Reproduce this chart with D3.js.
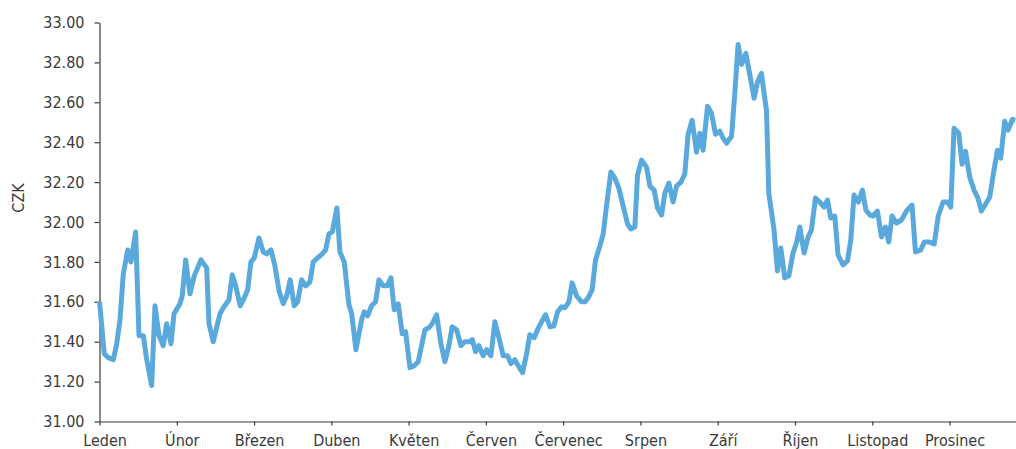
<!DOCTYPE html>
<html>
<head>
<meta charset="utf-8">
<script src="https://cdn.jsdelivr.net/npm/d3@7"></script>
<style>
  html, body { margin: 0; padding: 0; background: #fff; }
  svg { display: block; }
  .axis text { font-family: "Liberation Sans Narrow", "Arial Narrow", "DejaVu Sans Condensed", sans-serif; font-size: 16px; fill: #3a3a3a; }
  .axis path, .axis line { stroke: #3a3a3a; stroke-width: 1.2; }
</style>
</head>
<body>
<svg id="chart" width="1016" height="449"></svg>
<script>
const months = ["Leden","Únor","Březen","Duben","Květen","Červen","Červenec","Srpen","Září","Říjen","Listopad","Prosinec"];
const yTicks = [31.0,31.2,31.4,31.6,31.8,32.0,32.2,32.4,32.6,32.8,33.0];
const yLabel = "CZK";
// position in months from start of year (0 = Leden)
const pos = [0.00,0.062,0.114,0.179,0.223,0.265,0.308,0.365,0.407,0.468,0.511,0.567,0.611,0.675,0.718,0.770,0.825,0.869,0.925,0.964,
1.041,1.071,1.115,1.171,1.226,1.313,1.387,1.417,1.472,1.559,1.602,1.658,1.675,1.718,1.762,1.821,1.873,1.917,1.960,
2.003,2.063,2.119,2.163,2.219,2.270,2.326,2.378,2.422,2.468,2.520,2.564,2.616,2.668,2.723,2.766,2.823,2.882,2.926,2.969,
3.012,3.072,3.111,3.167,3.228,3.263,3.318,3.392,3.426,3.470,3.521,3.573,3.616,3.671,3.723,3.771,3.814,3.865,3.917,3.961,
4.017,4.073,4.124,4.211,4.263,4.305,4.362,4.418,4.470,4.521,4.564,4.621,4.677,4.728,4.793,4.823,4.867,4.910,4.965,
5.009,5.065,5.116,5.168,5.224,5.281,5.323,5.375,5.418,5.475,5.527,5.569,5.625,5.669,5.721,5.772,5.828,5.880,5.928,5.979,
6.022,6.074,6.116,6.173,6.238,6.281,6.323,6.375,6.419,6.475,6.518,6.561,6.617,6.669,6.721,6.776,6.833,6.876,6.928,6.962,
7.014,7.079,7.122,7.177,7.221,7.273,7.316,7.368,7.423,7.467,7.523,7.574,7.617,7.669,7.726,7.769,7.811,7.868,7.920,7.972,
8.027,8.070,8.114,8.179,8.221,8.264,8.308,8.364,8.429,8.471,8.514,8.566,8.600,8.631,8.661,8.729,8.773,8.816,8.868,8.920,8.975,
9.019,9.062,9.118,9.170,9.213,9.265,9.321,9.376,9.420,9.463,9.515,9.557,9.622,9.679,9.722,9.764,9.820,9.873,9.917,9.972,
10.010,10.067,10.119,10.171,10.213,10.256,10.313,10.378,10.443,10.515,10.559,10.628,10.673,10.738,10.802,10.854,10.916,10.973,
11.016,11.058,11.119,11.162,11.206,11.261,11.317,11.368,11.412,11.475,11.520,11.575,11.620,11.662,11.714,11.757,11.814,11.850];
const czk = [31.60,31.34,31.32,31.31,31.39,31.51,31.74,31.86,31.80,31.95,31.43,31.43,31.31,31.18,31.58,31.43,31.38,31.49,31.39,31.54,
31.59,31.63,31.81,31.64,31.73,31.81,31.77,31.49,31.40,31.54,31.57,31.60,31.61,31.735,31.68,31.58,31.62,31.66,31.80,
31.82,31.92,31.85,31.84,31.86,31.78,31.65,31.59,31.63,31.71,31.58,31.60,31.71,31.68,31.70,31.80,31.82,31.84,31.86,31.94,
31.95,32.07,31.85,31.80,31.585,31.54,31.36,31.51,31.55,31.53,31.58,31.60,31.71,31.68,31.68,31.72,31.56,31.59,31.44,31.45,
31.27,31.28,31.30,31.46,31.47,31.49,31.535,31.39,31.30,31.38,31.475,31.46,31.38,31.40,31.40,31.41,31.35,31.38,31.33,
31.36,31.33,31.50,31.42,31.33,31.33,31.29,31.31,31.28,31.245,31.34,31.435,31.42,31.46,31.50,31.535,31.475,31.48,31.55,31.575,
31.57,31.60,31.695,31.63,31.60,31.60,31.62,31.66,31.81,31.88,31.94,32.08,32.25,32.22,32.17,32.08,31.99,31.965,31.975,32.235,
32.31,32.275,32.18,32.16,32.07,32.035,32.145,32.195,32.10,32.18,32.20,32.24,32.44,32.51,32.35,32.445,32.36,32.58,32.545,32.44,
32.455,32.42,32.395,32.43,32.645,32.89,32.79,32.845,32.71,32.62,32.70,32.745,32.645,32.56,32.145,31.96,31.755,31.87,31.72,31.73,31.845,
31.895,31.975,31.845,31.925,31.96,32.12,32.10,32.075,32.11,32.02,32.03,31.835,31.785,31.805,31.91,32.135,32.10,32.16,32.06,32.035,
32.03,32.055,31.925,31.975,31.90,32.03,31.995,32.01,32.055,32.085,31.85,31.86,31.90,31.90,31.89,32.03,32.10,32.10,
32.075,32.47,32.445,32.29,32.355,32.225,32.16,32.12,32.055,32.095,32.125,32.26,32.36,32.32,32.505,32.46,32.515,32.51];

const svg = d3.select("#chart");
const x = d3.scaleLinear().domain([0, 11.86]).range([99.5, 1016]);
const y = d3.scaleLinear().domain([31, 33]).range([421.5, 22.5]);

// y axis
svg.append("g").attr("class", "axis").attr("transform", "translate(99.5,0)")
  .call(d3.axisLeft(y).tickValues(yTicks).tickFormat(d3.format(".2f")).tickSizeInner(5).tickSizeOuter(0).tickPadding(10));

// x axis
const xAxis = svg.append("g").attr("class", "axis").attr("transform", "translate(0,421.5)")
  .call(d3.axisBottom(x).tickValues(d3.range(months.length)).tickFormat(i => months[i]).tickSizeInner(4).tickSizeOuter(0));
xAxis.selectAll("text").attr("y", 24).attr("dy", 0).attr("dx", 5);

// y label
svg.append("text")
  .attr("transform", "translate(24,198) rotate(-90)")
  .attr("text-anchor", "middle")
  .style("font-family", "\"Liberation Sans Narrow\", \"Arial Narrow\", \"DejaVu Sans Condensed\", sans-serif")
  .style("font-size", "16px").style("fill", "#3a3a3a")
  .text(yLabel);

const data = pos.map((p, i) => ({p, v: czk[i]}));
svg.append("path").datum(data)
  .attr("fill", "none")
  .attr("stroke", "#5aa9dd")
  .attr("stroke-width", 5)
  .attr("stroke-linejoin", "round")
  .attr("stroke-linecap", "butt")
  .attr("d", d3.line().x(d => x(d.p)).y(d => y(d.v)));
</script>
</body>
</html>
